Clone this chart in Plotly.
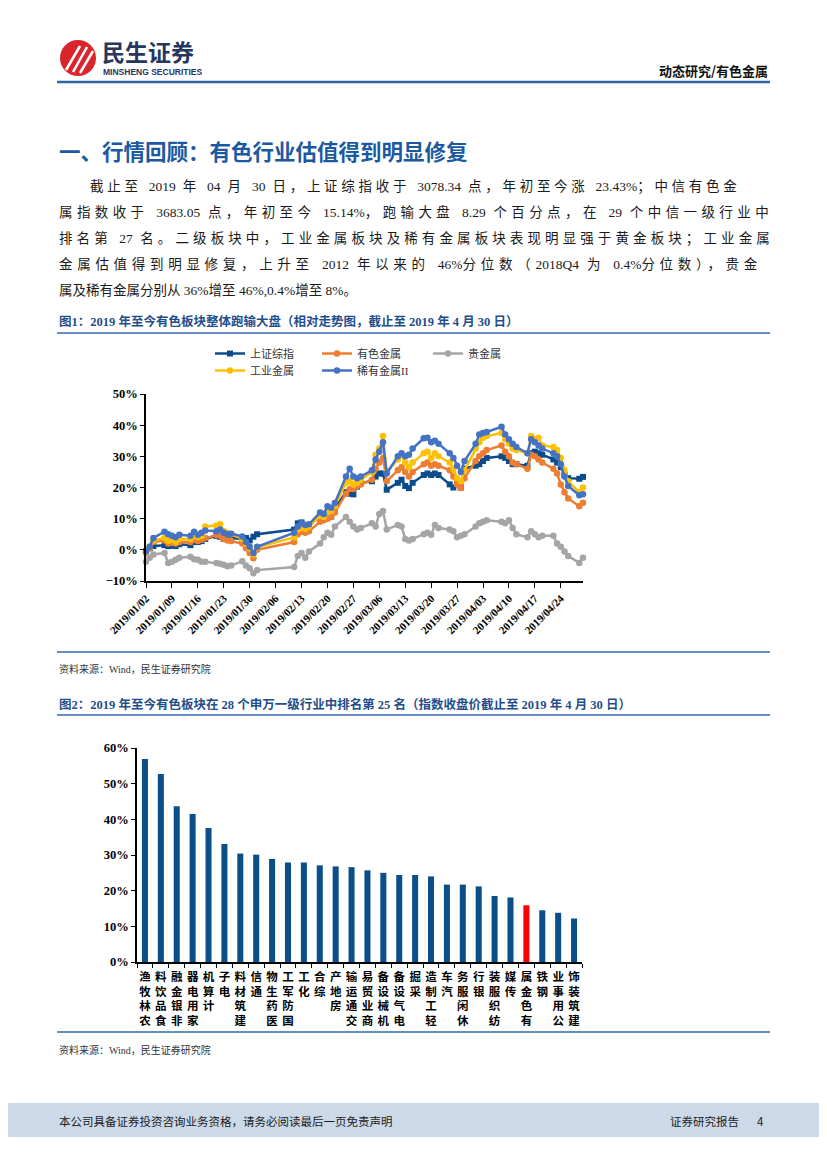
import plotly.graph_objects as go

W, H = 827, 1169
OFF = 8  # page body margin of the browser


def X(px):
    return (px - OFF) / W


def Y(py):
    return 1 - (py - OFF) / H


# ---------------- data: chart 1 (relative performance, %) ----------------
dates = [
    "2019-01-02", "2019-01-03", "2019-01-04", "2019-01-07", "2019-01-08", "2019-01-09",
    "2019-01-10", "2019-01-11", "2019-01-14", "2019-01-15", "2019-01-16", "2019-01-17",
    "2019-01-18", "2019-01-21", "2019-01-22", "2019-01-23", "2019-01-24", "2019-01-25",
    "2019-01-28", "2019-01-29", "2019-01-30", "2019-01-31", "2019-02-01",
    "2019-02-11", "2019-02-12", "2019-02-13", "2019-02-14", "2019-02-15", "2019-02-18",
    "2019-02-19", "2019-02-20", "2019-02-21", "2019-02-22", "2019-02-25", "2019-02-26",
    "2019-02-27", "2019-02-28",
    "2019-03-01", "2019-03-04", "2019-03-05", "2019-03-06", "2019-03-07", "2019-03-08",
    "2019-03-11", "2019-03-12", "2019-03-13", "2019-03-14", "2019-03-15", "2019-03-18",
    "2019-03-19", "2019-03-20", "2019-03-21", "2019-03-22", "2019-03-25", "2019-03-26",
    "2019-03-27", "2019-03-28", "2019-03-29",
    "2019-04-01", "2019-04-02", "2019-04-03", "2019-04-04", "2019-04-08", "2019-04-09",
    "2019-04-10", "2019-04-11", "2019-04-12", "2019-04-15", "2019-04-16", "2019-04-17",
    "2019-04-18", "2019-04-19", "2019-04-22", "2019-04-23", "2019-04-24", "2019-04-25",
    "2019-04-26", "2019-04-29", "2019-04-30",
]

sh_composite = [
    -0.5, 0.5, 1.2, 1.5, 1.2, 1.3, 1.2, 1.8, 1.5, 2.5, 2.5, 2.8, 3.5, 4.5, 4.2, 3.5, 3.5, 3.8,
    3.5, 3.8, 3.0, 4.2, 5.0,
    6.5, 8.5, 8.8, 8.0, 7.5, 11.2, 10.7, 11.8, 10.7, 13.4, 18.5, 18.0, 17.8, 20.3,
    21.5, 22.0, 23.5, 24.5, 24.5, 19.3, 21.5, 22.5, 20.5, 19.8, 21.5, 24.0, 24.5, 24.0,
    24.5, 24.0, 21.0, 20.0, 21.5, 20.0, 26.0,
    27.0, 27.5, 28.5, 29.5, 30.0, 29.5, 28.5, 27.5, 27.5, 27.0, 31.0, 31.5, 31.0, 30.5,
    29.0, 28.0, 26.5, 24.0, 23.0, 22.8, 23.4,
]

nonferrous = [
    -1.0, 0.5, 2.5, 3.0, 2.0, 2.2, 2.0, 2.5, 2.5, 3.2, 2.8, 3.2, 3.8, 4.8, 4.5, 3.5, 3.0, 2.8,
    2.0, 0.5, -1.0, -2.7, 0.0,
    2.5, 5.0, 5.8, 5.5, 6.0, 9.0, 9.5, 10.0, 10.5, 12.0, 18.0, 19.5, 19.5, 20.5,
    21.0, 22.5, 26.0, 28.0, 29.5, 22.0, 25.5, 26.5, 25.0, 23.5, 25.0, 27.5, 28.0, 27.0,
    27.5, 27.0, 25.5, 23.5, 21.0, 19.8, 23.0,
    28.5, 30.0, 31.0, 32.0, 33.5, 31.5, 30.0, 28.0, 27.5, 26.0, 30.5, 30.0, 29.0, 28.0,
    26.0, 24.5, 21.0, 18.5, 16.5, 14.0, 15.1,
]

precious = [
    -3.8, -2.5, -1.5, -1.0, -4.2, -3.8, -3.2, -2.5, -2.2, -3.0, -3.2, -3.8, -3.8, -4.2, -4.5,
    -4.8, -5.3, -5.0, -3.7, -5.0, -5.9, -7.5, -6.5,
    -5.5, -2.0, -1.0, -2.5, -0.5, 2.0, 4.0, 5.5, 4.8, 7.5, 10.5, 9.0, 7.5, 6.5,
    7.0, 8.5, 7.5, 11.5, 12.5, 6.5, 8.0, 7.5, 3.5, 3.0, 3.5, 5.0, 5.5, 4.8, 8.0, 7.0,
    6.5, 6.0, 4.0, 4.5, 5.0,
    7.5, 8.5, 9.0, 9.5, 9.0, 8.5, 9.5, 7.0, 5.0, 4.0, 6.0, 5.0, 4.0, 4.5, 4.5, 2.0, 1.0,
    -0.5, -2.0, -4.2, -2.5,
]

industrial = [
    -0.8, 1.0, 3.0, 3.8, 2.8, 3.2, 2.5, 3.5, 3.5, 4.5, 4.0, 4.5, 7.5, 7.8, 8.2, 6.0, 5.5, 5.0,
    3.5, 2.0, 0.5, -1.5, 0.8,
    4.0, 6.5, 7.0, 6.8, 7.5, 11.0, 10.5, 12.0, 12.5, 14.0, 21.5, 22.0, 21.0, 21.5,
    22.5, 25.0, 30.5, 32.5, 36.5, 25.0, 29.0, 30.5, 28.0, 26.5, 28.0, 31.0, 31.5, 29.5,
    31.0, 30.0, 28.0, 26.0, 23.0, 22.0, 25.5,
    32.5, 34.5, 36.0, 36.5, 37.5, 35.5, 34.0, 32.5, 32.0, 31.0, 36.5, 35.5, 36.0, 33.5,
    33.0, 32.0, 29.5, 25.5, 22.0, 18.5, 20.0,
]

rare_metals = [
    -0.5, 1.0, 3.8, 5.8, 5.0, 4.5, 4.0, 4.8, 4.5, 5.8, 4.8, 5.5, 6.2, 6.0, 6.5, 5.5, 5.0, 5.2,
    4.3, 2.5, 1.0, -1.0, 1.0,
    5.5, 7.5, 8.5, 8.0, 8.2, 12.0, 11.5, 14.0, 13.5, 15.0, 23.5, 26.0, 23.5, 23.0,
    23.5, 25.5, 29.0, 31.5, 34.5, 24.5, 30.0, 31.0, 30.0, 30.5, 32.5, 35.8, 36.0, 34.5,
    35.0, 34.0, 31.0, 29.5, 27.0, 25.0, 28.5,
    34.0, 37.0, 37.5, 37.8, 39.5, 37.0, 35.5, 34.0, 33.0, 31.0, 35.5, 34.5, 33.5, 32.5,
    31.0, 30.0, 27.5, 23.5, 20.5, 17.5, 17.8,
]

series_names = ["上证综指", "有色金属", "贵金属", "工业金属", "稀有金属II"]
series_values = [sh_composite, nonferrous, precious, industrial, rare_metals]

# ---------------- data: chart 2 (YTD return by SW industry, %) ----------------
industries = [
    "农林牧渔", "食品饮料", "非银金融", "家用电器", "计算机", "电子", "建筑材料", "通信",
    "医药生物", "国防军工", "化工", "综合", "房地产", "交通运输", "商业贸易", "机械设备",
    "电气设备", "采掘", "轻工制造", "汽车", "休闲服务", "银行", "纺织服装", "传媒",
    "有色金属", "钢铁", "公用事业", "建筑装饰",
]
ytd_returns = [
    56.9, 52.7, 43.7, 41.5, 37.6, 33.1, 30.4, 30.1, 28.9, 27.9, 27.9, 27.1, 26.8, 26.6,
    25.7, 25.0, 24.4, 24.4, 24.0, 21.7, 21.7, 21.2, 18.5, 18.1, 15.9, 14.5, 13.8, 12.2,
]
highlight = "有色金属"

# ---------------- styles ----------------
SERIF = "Liberation Serif, Noto Sans CJK SC, serif"
CJK = "Noto Sans CJK SC, sans-serif"
line_colors = ["#0B4C8C", "#ED7D31", "#A5A5A5", "#FFC000", "#4472C4"]
symbols = ["square", "circle", "circle", "circle", "circle"]
legend_ids = ["legend", "legend2", "legend3", "legend4", "legend5"]
# legend entry positions (line start x, row centre y) in page pixels
legend_pos = [(218, 347), (325, 347), (436, 347), (218, 364), (325, 364)]
RULE = "#2F6BA8"
TITLE_BLUE = "#1F4E8C"

fig = go.Figure()

for name, vals, col, sym, lg in zip(series_names, series_values, line_colors, symbols, legend_ids):
    fig.add_trace(go.Scatter(
        x=dates, y=vals, name=name, mode="lines+markers",
        line=dict(color=col, width=2.5),
        marker=dict(symbol=sym, size=6.5 if sym == "circle" else 6, color=col),
        xaxis="x", yaxis="y", legend=lg, cliponaxis=False,
    ))

bar_colors = ["#FF0000" if n == highlight else "#0B4F8A" for n in industries]
fig.add_trace(go.Bar(
    x=industries, y=ytd_returns, marker=dict(color=bar_colors, line=dict(width=0)),
    width=0.38, xaxis="x2", yaxis="y2", showlegend=False,
))

vertical_labels = ["<br>".join(reversed(n)) for n in industries]

axis_common = dict(showline=True, linecolor="black", linewidth=1.5, showgrid=False,
                   zeroline=False, ticks="outside", tickcolor="black", tickwidth=1)

legends = {}
for lg, (lx, ly) in zip(legend_ids, legend_pos):
    legends[lg] = dict(orientation="h", xanchor="left", yanchor="top",
                       x=X(lx - 8), y=Y(ly - 8), itemwidth=30,
                       font=dict(family=SERIF, size=11, color="#333"),
                       bgcolor="rgba(0,0,0,0)")

fig.update_layout(
    width=W, height=H, margin=dict(l=0, r=0, t=0, b=0, autoexpand=False),
    paper_bgcolor="white", plot_bgcolor="white",
    xaxis=dict(
        domain=[X(146), X(583)], anchor="y", type="date",
        range=["2019-01-02", "2019-04-30"], tick0="2019-01-02", dtick=7 * 86400000,
        tickformat="%Y/%m/%d", tickangle=-45, ticklen=5,
        tickfont=dict(family=SERIF, size=11, color="black", weight="bold"),
        **axis_common,
    ),
    yaxis=dict(
        domain=[Y(581), Y(394)], anchor="x", range=[-10, 50], dtick=10, ticksuffix="%",
        ticklen=4, tickfont=dict(family=SERIF, size=12.5, color="black", weight="bold"),
        **axis_common,
    ),
    xaxis2=dict(
        domain=[X(137), X(582)], anchor="y2", type="category",
        tickvals=industries, ticktext=vertical_labels, tickangle=0, tickson="boundaries",
        ticklen=4, ticklabelstandoff=3, range=[-0.5, len(industries) - 0.5],
        tickfont=dict(family=CJK, size=11.5, color="black", weight="bold"),
        **axis_common,
    ),
    yaxis2=dict(
        domain=[Y(962), Y(748)], anchor="x2", range=[0, 60], dtick=10, ticksuffix="%",
        ticklen=4, tickfont=dict(family=SERIF, size=12.5, color="black", weight="bold"),
        **axis_common,
    ),
    bargap=0.6,
    **legends,
)

shapes = []
annotations = []


def hline(y, x0=57, x1=770, color=RULE, width=1.5):
    shapes.append(dict(type="line", xref="paper", yref="paper", x0=X(x0), x1=X(x1),
                       y0=Y(y), y1=Y(y), line=dict(color=color, width=width)))


def justify(s, sp):
    """Spread CJK characters and spaces (like Word justification), keep Latin runs tight."""
    runs, buf, mode = [], "", None
    for ch in s:
        m = "lat" if (ch.isascii() and ch != " ") else "cjk"
        if mode is not None and m != mode:
            runs.append((mode, buf))
            buf = ""
        mode = m
        buf += ch
    runs.append((mode, buf))
    out = []
    for m, b in runs:
        if m == "cjk":
            out.append('<span style="letter-spacing:%.2fpx">%s</span>' % (sp, b))
        else:
            out.append(b)
    return "".join(out)


def text(x, y, s, size, color="#222", family=SERIF, bold=False, xanchor="left"):
    annotations.append(dict(xref="paper", yref="paper", x=X(x), y=Y(y), text=s,
                            showarrow=False, xanchor=xanchor, yanchor="middle",
                            font=dict(family=family, size=size, color=color,
                                      weight="bold" if bold else "normal")))


# header
shapes.append(dict(type="circle", xref="paper", yref="paper", x0=X(60), x1=X(96),
                   y0=Y(76), y1=Y(40), fillcolor="#D8262C", line=dict(width=0)))
for (ax, ay, bx, by) in [(66, 70, 80, 46), (73, 72, 87, 47), (80, 73, 93, 51)]:
    shapes.append(dict(type="line", xref="paper", yref="paper", x0=X(ax), y0=Y(ay),
                       x1=X(bx), y1=Y(by), line=dict(color="white", width=2.5)))
text(100, 51, "民生证券", 23, color="#27365F", family=CJK, bold=True)
text(101, 72, "MINSHENG SECURITIES", 8.5, color="#27365F", family="Liberation Sans", bold=True)
text(770, 70, "动态研究/有色金属", 13, color="#111", family=CJK, bold=True, xanchor="right")
hline(82, 57, 770, color="#2F64A0", width=2.5)

# section title
text(57, 150, "一、行情回顾：有色行业估值得到明显修复", 21.5, color="#1B5AA0", family=CJK, bold=True)

# paragraph (justified lines, last line natural)
para = [
    (88, 3.7, "截止至 2019 年 04 月 30 日，上证综指收于 3078.34 点，年初至今涨 23.43%；中信有色金"),
    (57, 4.4, "属指数收于 3683.05 点，年初至今 15.14%，跑输大盘 8.29 个百分点，在 29 个中信一级行业中"),
    (57, 4.1, "排名第 27 名。二级板块中，工业金属板块及稀有金属板块表现明显强于黄金板块；工业金属"),
    (57, 4.7, "金属估值得到明显修复，上升至 2012 年以来的 46%分位数（2018Q4 为 0.4%分位数），贵金"),
    (57, None, "属及稀有金属分别从 36%增至 46%,0.4%增至 8%。"),
]
for i, (x0, sp, s) in enumerate(para):
    body = justify(s, sp) if sp is not None else s
    text(x0, 186 + 26 * i, body, 13.5, color="#1a1a1a")

# figure 1 title & rules
text(57, 322, "图1：2019 年至今有色板块整体跑输大盘（相对走势图，截止至 2019 年 4 月 30 日）",
     12.5, color=TITLE_BLUE, bold=True)
hline(333)
hline(652)
text(57, 669, "资料来源：Wind，民生证券研究院", 10, color="#333")

# figure 2 title & rules
text(57, 704, "图2：2019 年至今有色板块在 28 个申万一级行业中排名第 25 名（指数收盘价截止至 2019 年 4 月 30 日）",
     12.5, color=TITLE_BLUE, bold=True)
hline(715)
hline(1032)
text(57, 1050, "资料来源：Wind，民生证券研究院", 10, color="#333")

# footer
shapes.append(dict(type="rect", xref="paper", yref="paper", x0=X(0), x1=X(835), y0=Y(1137), y1=Y(1103),
                   fillcolor="#CBD9E8", line=dict(width=0), layer="below"))
text(57, 1121, "本公司具备证券投资咨询业务资格，请务必阅读最后一页免责声明", 11.5, color="#222", family=CJK)
text(668, 1121, "证券研究报告", 11.5, color="#222", family=CJK)
text(766, 1121, "4", 11.5, color="#222", family=CJK, xanchor="right")

fig.update_layout(shapes=shapes, annotations=annotations)
fig.write_html("out.html")
